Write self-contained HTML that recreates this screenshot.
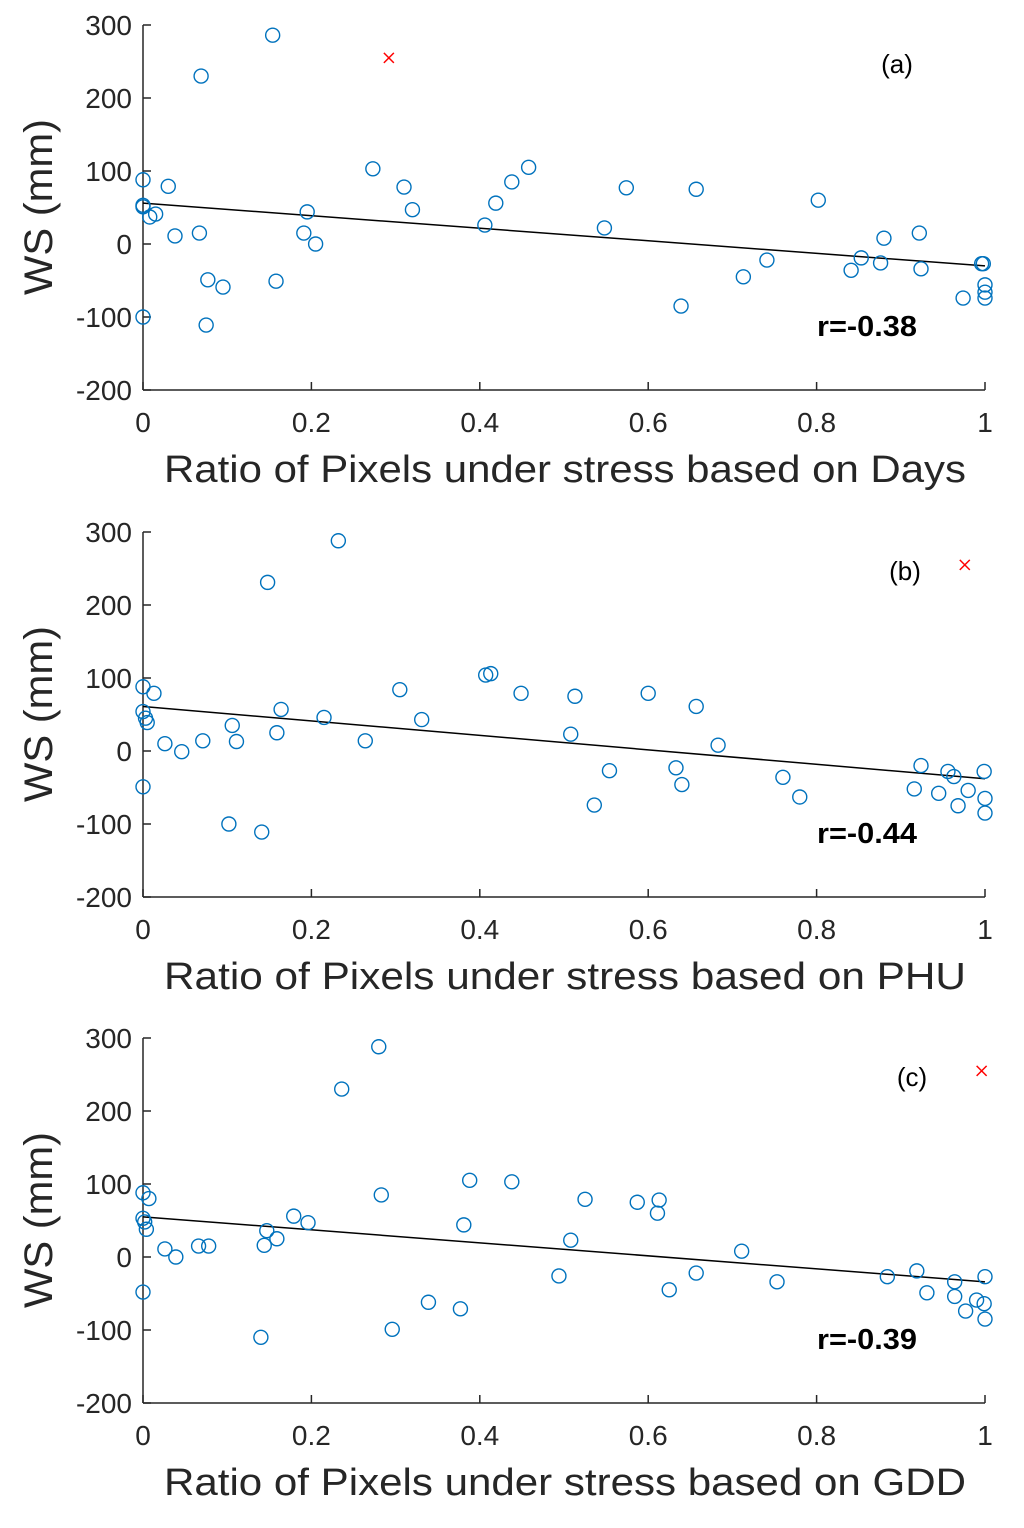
<!DOCTYPE html>
<html><head><meta charset="utf-8">
<style>
body{margin:0;background:#fff;}
svg{display:block;font-family:"Liberation Sans",Arial,sans-serif;}
</style></head>
<body>
<svg id="chart" width="1024" height="1528" viewBox="0 0 1024 1528"></svg>
<script>
const xTicks=[0,0.2,0.4,0.6,0.8,1];
const xTickLabels=["0","0.2","0.4","0.6","0.8","1"];
const yTicks=[-200,-100,0,100,200,300];
const yTickLabels=["-200","-100","0","100","200","300"];
const panelTags=["(a)","(b)","(c)"];
const panelXLabels=["Ratio of Pixels under stress based on Days","Ratio of Pixels under stress based on PHU","Ratio of Pixels under stress based on GDD"];
const panelR=["r=-0.38","r=-0.44","r=-0.39"];
const fitStart=[56,61,55];
const fitEnd=[-30,-38,-34];
const outlierX=[0.292,0.976,0.996];
const outlierY=[255,255,255];
const aX=[0,0,0,0,0.008,0.015,0.03,0.038,0.069,0.067,0.077,0.075,0.095,0.154,0.158,0.195,0.191,0.205,0.273,0.31,0.32,0.406,0.419,0.438,0.458,0.548,0.574,0.639,0.657,0.713,0.741,0.802,0.841,0.853,0.876,0.88,0.922,0.924,0.974,0.996,0.998,1,1,1];
const aY=[88,53,51,-100,37,41,79,11,230,15,-49,-111,-59,286,-51,44,15,0,103,78,47,26,56,85,105,22,77,-85,75,-45,-22,60,-36,-19,-26,8,15,-34,-74,-27,-27,-56,-66,-74];
const bX=[0,0,0.003,0.005,0.013,0,0.026,0.046,0.071,0.106,0.111,0.102,0.148,0.141,0.164,0.159,0.215,0.232,0.264,0.305,0.331,0.407,0.413,0.449,0.508,0.513,0.536,0.554,0.6,0.633,0.64,0.657,0.683,0.76,0.78,0.916,0.924,0.945,0.956,0.963,0.968,0.98,0.999,1,1];
const bY=[88,54,45,39,79,-49,10,-1,14,35,13,-100,231,-111,57,25,46,288,14,84,43,104,106,79,23,75,-74,-27,79,-23,-46,61,8,-36,-63,-52,-20,-58,-28,-35,-75,-54,-28,-65,-85];
const cX=[0,0.007,0,0.002,0.004,0,0.026,0.039,0.066,0.078,0.14,0.147,0.144,0.159,0.179,0.196,0.236,0.28,0.283,0.296,0.339,0.377,0.381,0.388,0.438,0.494,0.508,0.525,0.587,0.613,0.611,0.625,0.657,0.711,0.753,0.884,0.919,0.931,0.964,0.964,0.977,0.99,0.999,1,1];
const cY=[88,80,53,48,38,-48,11,0,15,15,-110,36,16,25,56,47,230,288,85,-99,-62,-71,44,105,103,-26,23,79,75,78,60,-45,-22,8,-34,-27,-19,-49,-34,-54,-74,-59,-64,-85,-27];
const seriesX=[aX,bX,cX];
const seriesY=[aY,bY,cY];
const panelTop=[25,532,1038];

const NS="http://www.w3.org/2000/svg";
const svg=document.getElementById('chart');
function mk(tag,attrs,parent){const e=document.createElementNS(NS,tag);for(const k in attrs)e.setAttribute(k,attrs[k]);(parent||svg).appendChild(e);return e;}
const X0=143,X1=985,H=365;
for(let p=0;p<3;p++){
  const top=panelTop[p],bot=top+H;
  const sx=v=>X0+v*(X1-X0);
  const sy=v=>bot-(v+200)/500*H;
  const g=mk('g',{});
  
  
  const ax=mk('line',{x1:X0,y1:top,x2:X0,y2:bot,stroke:'#262626','stroke-width':1.5},g);
  
  
  const bx=mk('line',{x1:X0,y1:bot,x2:X1,y2:bot,stroke:'#262626','stroke-width':1.5},g);
  
  
  xTicks.forEach((t,i)=>{
    mk('line',{x1:sx(t),y1:bot,x2:sx(t),y2:bot-8,stroke:'#262626','stroke-width':1.5},g);
    const tx=mk('text',{x:sx(t),y:bot+42,'text-anchor':'middle','font-size':28,fill:'#262626'},g);
    tx.textContent=xTickLabels[i];
    
    
  });
  yTicks.forEach((t,i)=>{
    mk('line',{x1:X0,y1:sy(t),x2:X0+8,y2:sy(t),stroke:'#262626','stroke-width':1.5},g);
    const tx=mk('text',{x:X0-11,y:sy(t)+10,'text-anchor':'end','font-size':28,fill:'#262626'},g);
    tx.textContent=yTickLabels[i];
    
    
  });
  const xl=mk('text',{x:565,y:bot+92,'text-anchor':'middle','font-size':38,fill:'#262626',textLength:802,lengthAdjust:'spacingAndGlyphs'},g);
  xl.textContent=panelXLabels[p];
  
  
  const yl=mk('text',{x:0,y:0,'text-anchor':'middle','font-size':40,fill:'#262626',textLength:176,lengthAdjust:'spacingAndGlyphs',transform:`translate(52,${top+182}) rotate(-90)`},g);
  yl.textContent='WS (mm)';
  
  
  const fit=mk('line',{x1:sx(0),y1:sy(fitStart[p]),x2:sx(1),y2:sy(fitEnd[p]),stroke:'#000','stroke-width':1.5},g);
  
  
  seriesX[p].forEach((v,i)=>{
    const c=mk('circle',{cx:sx(v),cy:sy(seriesY[p][i]),r:7,fill:'none',stroke:'#0072BD','stroke-width':1.4},g);
    
    
  });
  const ox=sx(outlierX[p]),oy=sy(outlierY[p]);
  const o=mk('path',{d:`M${ox-5},${oy-5}L${ox+5},${oy+5}M${ox-5},${oy+5}L${ox+5},${oy-5}`,stroke:'#ff0000','stroke-width':1.5},g);
  
  
  const tagX=[897,905,912][p];
  const tg=mk('text',{x:tagX,y:top+48,'text-anchor':'middle','font-size':26,fill:'#000'},g);
  tg.textContent=panelTags[p];
  
  
  const rt=mk('text',{x:867,y:top+311,'text-anchor':'middle','font-size':29,'font-weight':'bold',fill:'#000',textLength:100,lengthAdjust:'spacingAndGlyphs'},g);
  rt.textContent=panelR[p];
  
  
}
</script>
</body></html>
